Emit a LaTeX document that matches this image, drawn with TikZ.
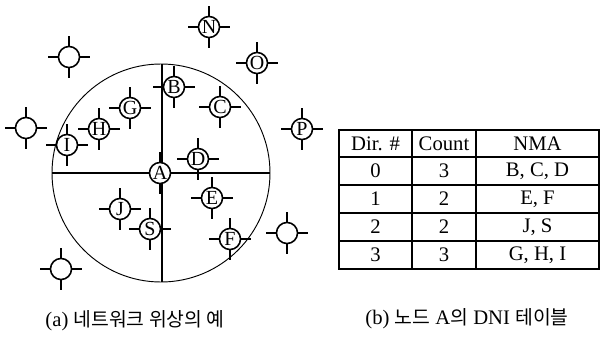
\documentclass[tikz,border=0pt]{standalone}
\usepackage{fontspec}
\setmainfont{Liberation Serif}
\newfontfamily\cjk{Noto Sans CJK KR}
\begin{document}
\begin{tikzpicture}[x=0.75pt,y=-0.75pt,
  nn/.style={circle,draw,line width=1.2pt,fill=white,minimum size=15.8pt,inner sep=0pt,font=\fontsize{15}{15}\selectfont},
  tick/.style={line width=1.2pt},
  tbl/.style={line width=0.8pt},
  cell/.style={font=\fontsize{15.5}{16}\selectfont,inner sep=0pt},
  captext/.style={font=\fontsize{15.5}{17}\selectfont,inner sep=0pt}]
\useasboundingbox (0,0) rectangle (600,336);
% big circle and quadrants
\draw[line width=0.7pt] (161,173) circle[radius=109];
\coordinate (L) at (52,173);
\coordinate (R) at (270,173);
\coordinate (T) at (162,64);
\coordinate (Bt) at (162,282);
\draw[line width=0.8pt] (L) -- (R);
\draw[line width=0.8pt] (T) -- (Bt);
% nodes
\node[nn] (A) at (160,173) {A};
\node[nn] (B) at (174,87) {B};
\node[nn] (C) at (220,107) {C};
\node[nn] (D) at (198,159) {D};
\node[nn] (E) at (212,198) {E};
\node[nn] (F) at (230,239) {F};
\node[nn] (G) at (130,108) {G};
\node[nn] (H) at (99,129) {H};
\node[nn] (I) at (67,145) {I};
\node[nn] (J) at (120,209) {J};
\node[nn] (S) at (150,229) {S};
\node[nn] (N) at (209,27) {N};
\node[nn] (O) at (257,63) {O};
\node[nn] (P) at (302,129) {P};
\node[nn] (X1) at (69,57) {};
\node[nn] (X2) at (26,128) {};
\node[nn] (X3) at (287,233) {};
\node[nn] (X4) at (61,269) {};
\foreach \n in {A,B,C,D,E,F,G,H,I,J,S,N,O,P,X1,X2,X3,X4}{
  \draw[tick] (\n.north) -- ++(0,-9.5);
  \draw[tick] (\n.south) -- ++(0,9.5);
  \draw[tick] (\n.east) -- ++(9.5,0);
  \draw[tick] (\n.west) -- ++(-9.5,0);
}
% table
\draw[tbl] (339,130) rectangle (599,269);
\draw[line width=1.8pt] (339,130) -- (339,269);
\foreach \y in {157,185,213,241} \draw[tbl] (339,\y) -- (599,\y);
\draw[tbl] (412,130) -- (412,269);
\draw[tbl] (476,130) -- (476,269);
\node[cell] (h1) at (375.5,143.5) {Dir. \#};
\node[cell] (h2) at (444,143.5) {Count};
\node[cell] (h3) at (537.5,143.5) {NMA};
\node[cell] (r11) at (375.5,171) {0};
\node[cell] (r12) at (444,171) {3};
\node[cell] (r13) at (537.5,171) {B, C, D};
\node[cell] (r21) at (375.5,199) {1};
\node[cell] (r22) at (444,199) {2};
\node[cell] (r23) at (537.5,199) {E, F};
\node[cell] (r31) at (375.5,227) {2};
\node[cell] (r32) at (444,227) {2};
\node[cell] (r33) at (537.5,227) {J, S};
\node[cell] (r41) at (375.5,255) {3};
\node[cell] (r42) at (444,255) {3};
\node[cell] (r43) at (537.5,255) {G, H, I};
% captions
\node[captext] (capa) at (135,321) {(a) {\cjk\fontsize{14.5}{17}\selectfont 네트워크 위상의 예}};
\node[captext] (capb) at (467,319) {(b) {\cjk\fontsize{14.5}{17}\selectfont 노드} A{\cjk\fontsize{14.5}{17}\selectfont 의} DNI {\cjk\fontsize{14.5}{17}\selectfont 테이블}};
\end{tikzpicture}
\end{document}
